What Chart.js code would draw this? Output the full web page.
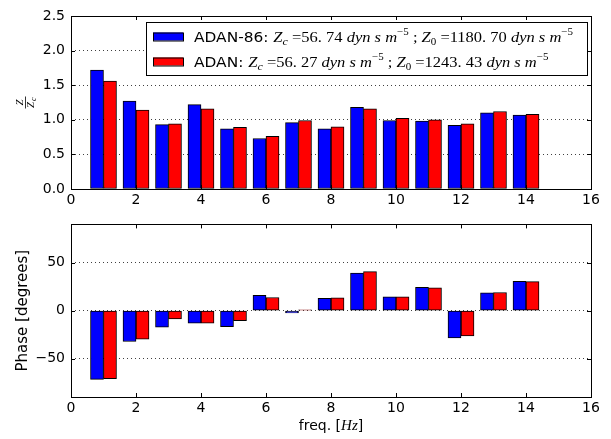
<!DOCTYPE html>
<html>
<head>
<meta charset="utf-8">
<script src="https://cdn.jsdelivr.net/npm/chart.js@4"></script>
<style>
  body { margin: 0; background: #fff; }
  #wrap { position: relative; width: 611px; height: 439px; }
  canvas { position: absolute; left: 0; }
</style>
</head>
<body>
<div id="wrap">
  <canvas id="ratio_chart" width="611" height="210" style="top:0"></canvas>
  <canvas id="phase_chart" width="611" height="229" style="top:210px"></canvas>
</div>
<script>
// frequencies of the harmonics, Hz
const freqs = [1, 2, 3, 4, 5, 6, 7, 8, 9, 10, 11, 12, 13, 14];

// |Z| / Zc
const ratioAdan86 = [1.72, 1.27, 0.93, 1.22, 0.87, 0.73, 0.96, 0.87, 1.18, 0.99, 0.98, 0.92, 1.10, 1.07];
const ratioAdan   = [1.56, 1.14, 0.94, 1.16, 0.89, 0.76, 0.99, 0.90, 1.16, 1.02, 1.00, 0.94, 1.12, 1.08];

// phase, degrees
const phaseAdan86 = [-71.7, -32.1, -17.2, -13.1, -16.6, 15.9, -2.4, 12.8, 39.3, 14.5, 24.5, -28.3, 18.6, 30.7];
const phaseAdan   = [-71.0, -29.7, -8.6, -13.1, -10.3, 13.8, 1.0, 13.4, 40.7, 14.5, 23.8, -26.2, 19.0, 30.3];

const seriesNames = ['ADAN-86', 'ADAN'];
const zcValues = [56.74, 56.27];
const z0Values = [1180.70, 1243.43];

const xTicks = [0, 2, 4, 6, 8, 10, 12, 14, 16];
const ratioTicks = [0, 0.5, 1.0, 1.5, 2.0, 2.5];
const phaseTicks = [-50, 0, 50];

const BLUE = '#0000ff';
const RED = '#ff0000';
const SANS = '"DejaVu Sans", sans-serif';
const SERIF = '"Liberation Serif", serif';
const BAR_W = 0.4;
const TICK_FONT = {family: SANS, size: 14};

function barData(values, shift) {
  return freqs.map((f, i) => ({x: f + shift, y: values[i]}));
}

function drawRuns(ctx, runs, x, y) {
  runs.forEach(r => {
    ctx.font = r.font;
    ctx.fillText(r.text, x, y + (r.dy || 0));
    x += ctx.measureText(r.text).width;
  });
  return x;
}

function runsWidth(ctx, runs) {
  let w = 0;
  runs.forEach(r => { ctx.font = r.font; w += ctx.measureText(r.text).width; });
  return w;
}

function mathNum(v) {
  // mathtext puts a small gap after the decimal point
  return v.toFixed(2).replace('.', '. ');
}

function legendRuns(i) {
  const mi = 'italic 15px ' + SERIF, mr = '15px ' + SERIF;
  const si = 'italic 11px ' + SERIF, sr = '10px ' + SERIF;
  return [
    {text: seriesNames[i] + ': ', font: '14px ' + SANS},
    {text: 'Z', font: mi}, {text: 'c', font: si, dy: 3},
    {text: ' =' + mathNum(zcValues[i]) + ' ', font: mr},
    {text: 'dyn s m', font: mi}, {text: '\u22125', font: sr, dy: -7},
    {text: ' ; ', font: mr},
    {text: 'Z', font: mi}, {text: '0', font: sr, dy: 3},
    {text: ' =' + mathNum(z0Values[i]) + ' ', font: mr},
    {text: 'dyn s m', font: mi}, {text: '\u22125', font: sr, dy: -7}
  ];
}

// matplotlib style frame with inward ticks on all four sides
const frameTicks = {
  id: 'frameTicks',
  afterDraw(chart) {
    const {ctx, chartArea: a, scales} = chart;
    ctx.save();
    ctx.strokeStyle = '#000';
    ctx.lineWidth = 1;
    ctx.beginPath();
    scales.x.ticks.forEach(t => {
      const px = Math.round(scales.x.getPixelForValue(t.value)) + 0.5;
      ctx.moveTo(px, a.bottom); ctx.lineTo(px, a.bottom - 4);
      ctx.moveTo(px, a.top); ctx.lineTo(px, a.top + 4);
    });
    scales.y.ticks.forEach(t => {
      const py = Math.round(scales.y.getPixelForValue(t.value)) + 0.5;
      ctx.moveTo(a.left, py); ctx.lineTo(a.left + 4, py);
      ctx.moveTo(a.right, py); ctx.lineTo(a.right - 4, py);
    });
    ctx.stroke();
    ctx.strokeRect(Math.round(a.left) + 0.5, Math.round(a.top) + 0.5,
      Math.round(a.width), Math.round(a.height));
    ctx.restore();
  }
};

const ratioDecor = {
  id: 'ratioDecor',
  afterDraw(chart) {
    const {ctx, chartArea: a} = chart;
    ctx.save();
    ctx.fillStyle = '#000';
    ctx.textBaseline = 'alphabetic';

    // y label: Z over Zc
    ctx.save();
    ctx.translate(25, (a.top + a.bottom) / 2);
    ctx.rotate(-Math.PI / 2);
    ctx.textAlign = 'center';
    ctx.font = 'italic 11px ' + SERIF;
    ctx.fillText('Z', 0, -2);
    ctx.fillRect(-6, 0, 12, 0.8);
    ctx.textAlign = 'left';
    ctx.fillText('Z', -5.5, 9);
    ctx.font = 'italic 8px ' + SERIF;
    ctx.fillText('c', 1.5, 11);
    ctx.restore();

    // legend box
    const bx = a.left + 75, by = a.top + 6;
    const bw = a.right - 4 - bx, bh = 53;
    ctx.fillStyle = '#fff';
    ctx.fillRect(bx, by, bw, bh);
    ctx.strokeStyle = '#000';
    ctx.lineWidth = 1;
    ctx.strokeRect(bx + 0.5, by + 0.5, bw, bh);
    const textX = bx + 48;
    const targetW = bw - 48 - 14;
    const rows = [0, 1].map(legendRuns);
    const natural = Math.max(...rows.map(r => runsWidth(ctx, r)));
    const sx = targetW / natural;
    [BLUE, RED].forEach((c, i) => {
      const cy = by + 14.5 + i * 25;
      ctx.fillStyle = c;
      ctx.fillRect(bx + 7, cy - 4, 30, 8);
      ctx.strokeRect(bx + 7.5, cy - 3.5, 30, 8);
      ctx.fillStyle = '#000';
      ctx.save();
      ctx.translate(textX, cy + 5);
      ctx.scale(sx, 1);
      drawRuns(ctx, rows[i], 0, 0);
      ctx.restore();
    });
    ctx.restore();
  }
};

const phaseDecor = {
  id: 'phaseDecor',
  afterDraw(chart) {
    const {ctx, chartArea: a} = chart;
    const runs = [
      {text: 'freq. [', font: '14px ' + SANS},
      {text: 'Hz', font: 'italic 15px ' + SERIF},
      {text: ']', font: '14px ' + SANS}
    ];
    ctx.save();
    ctx.fillStyle = '#000';
    const w = runsWidth(ctx, runs);
    drawRuns(ctx, runs, (a.left + a.right) / 2 - w / 2, 220);
    ctx.restore();
  }
};

function xScale(showTitle) {
  return {
    type: 'linear', min: 0, max: 16, offset: false,
    afterBuildTicks: s => { s.ticks = xTicks.map(v => ({value: v})); },
    afterFit: s => { s.height = showTitle ? 42 : 21; },
    grid: {display: false, drawTicks: false},
    border: {display: false},
    ticks: {padding: 3, color: '#000', font: TICK_FONT, maxRotation: 0}
  };
}

function barDataset(label, data, color) {
  return {
    label: label, data: data,
    backgroundColor: color, borderColor: '#000', borderWidth: 1,
    borderSkipped: false, barThickness: 13, grouped: false
  };
}

const common = {
  responsive: false, animation: false, devicePixelRatio: 1,
  plugins: {legend: {display: false}, tooltip: {enabled: false}}
};

new Chart('ratio_chart', {
  type: 'bar',
  data: {
    datasets: [
      barDataset(seriesNames[0], barData(ratioAdan86, -BAR_W / 2), BLUE),
      barDataset(seriesNames[1], barData(ratioAdan, BAR_W / 2), RED)
    ]
  },
  options: Object.assign({}, common, {
    layout: {padding: {top: 16, right: 20, left: 0, bottom: 0}},
    scales: {
      x: xScale(false),
      y: {
        min: 0, max: 2.5,
        afterBuildTicks: s => { s.ticks = ratioTicks.map(v => ({value: v})); },
        afterFit: s => { s.width = 71; },
        grid: {color: 'rgba(0,0,0,0.75)', drawTicks: false},
        border: {display: false, dash: [1, 3]},
        ticks: {padding: 6, color: '#000', font: TICK_FONT,
          callback: v => v.toFixed(1)}
      }
    }
  }),
  plugins: [frameTicks, ratioDecor]
});

new Chart('phase_chart', {
  type: 'bar',
  data: {
    datasets: [
      barDataset(seriesNames[0], barData(phaseAdan86, -BAR_W / 2), BLUE),
      barDataset(seriesNames[1], barData(phaseAdan, BAR_W / 2), RED)
    ]
  },
  options: Object.assign({}, common, {
    layout: {padding: {top: 14, right: 20, left: 0, bottom: 0}},
    scales: {
      x: xScale(true),
      y: {
        min: -90, max: 90,
        afterBuildTicks: s => { s.ticks = phaseTicks.map(v => ({value: v})); },
        afterFit: s => { s.width = 71; },
        grid: {color: 'rgba(0,0,0,0.75)', drawTicks: false},
        border: {display: false, dash: [1, 3]},
        title: {display: true, text: 'Phase [degrees]', color: '#000',
          font: {family: SANS, size: 15}, padding: {top: 14, bottom: 0}},
        ticks: {padding: 6, color: '#000', font: TICK_FONT,
          callback: v => v < 0 ? '\u2212' + Math.abs(v) : String(v)}
      }
    }
  }),
  plugins: [frameTicks, phaseDecor]
});
</script>
</body>
</html>
